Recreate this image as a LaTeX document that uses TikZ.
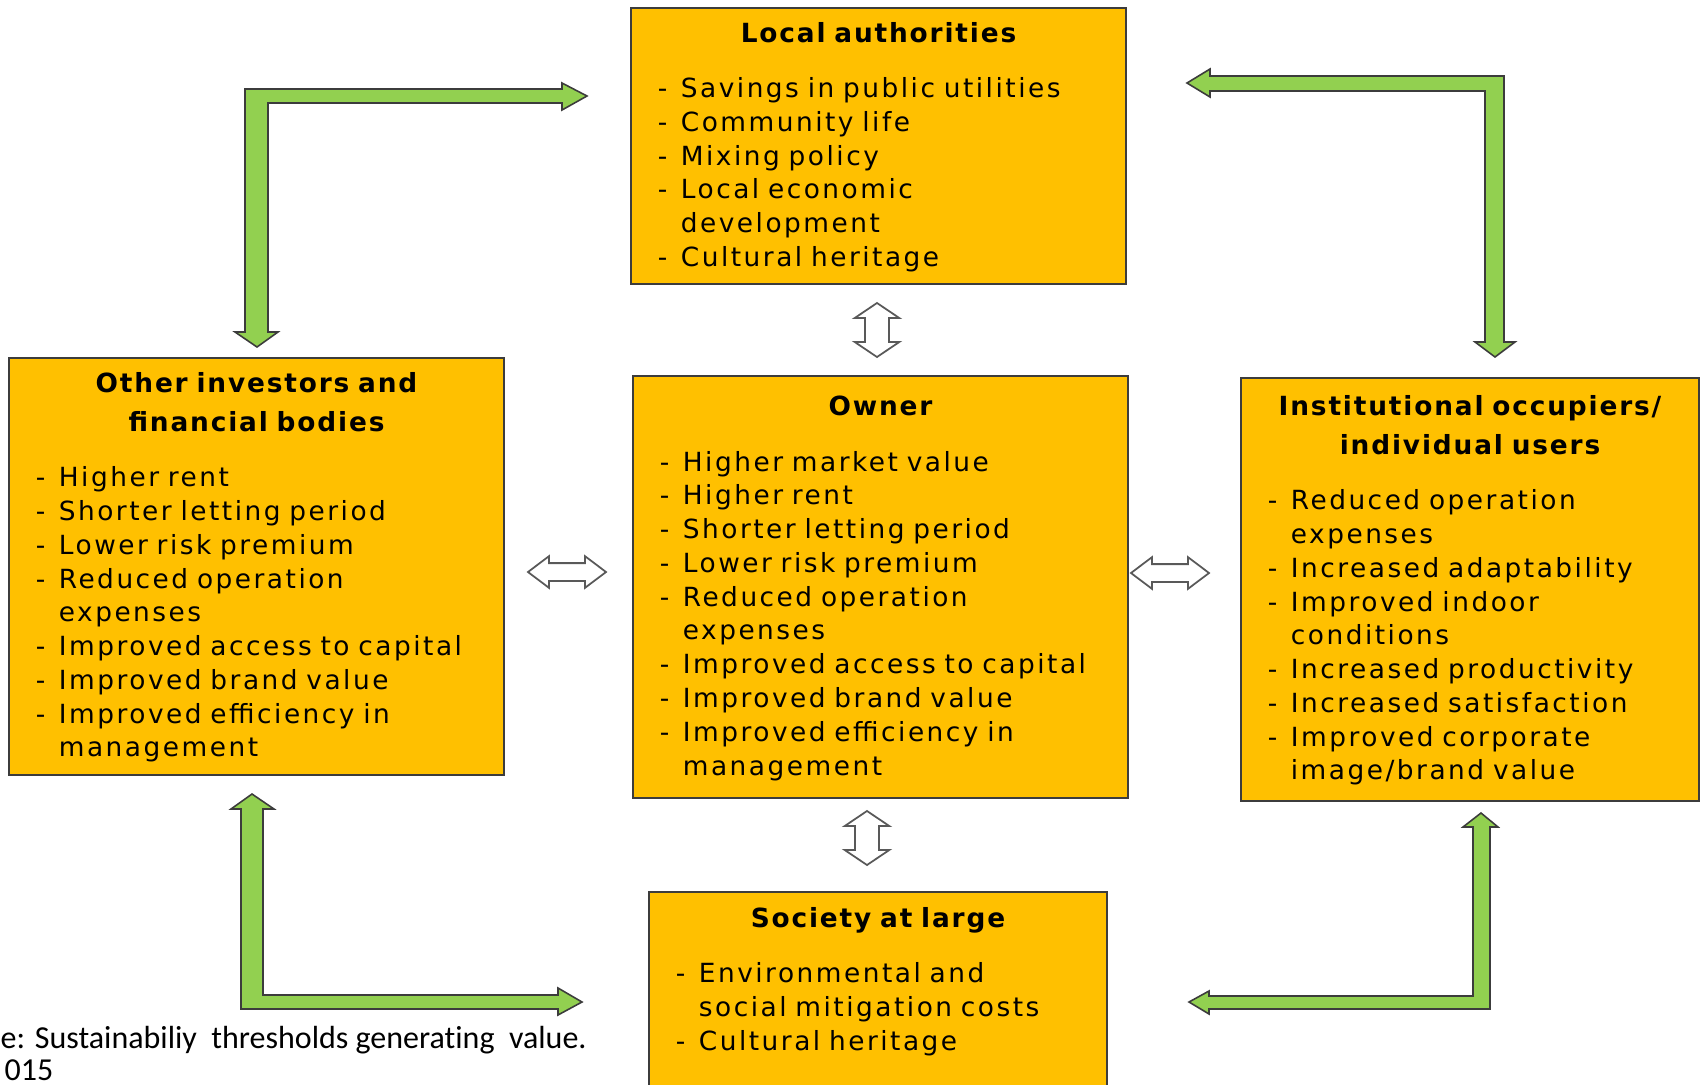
\documentclass[tikz,border=0pt]{standalone}
\usepackage{fontspec}
\newfontfamily\boxfont{DejaVu Sans}[LetterSpace=9.5]
\newfontfamily\headfont{DejaVu Sans}[LetterSpace=7]
\newfontfamily\capfont{Carlito}[Ligatures=NoCommon]
\definecolor{boxgold}{RGB}{255,192,0}
\definecolor{arrowgreen}{RGB}{146,208,80}
\definecolor{edgegray}{RGB}{60,60,60}
\usetikzlibrary{arrows.meta,positioning,shapes.arrows,calc}

% dash column + item column, rows given as "- & text\\"
\newcommand{\gainlist}[2]{\begin{tabular}[t]{@{}p{0.23cm}@{}p{#1}@{}}#2\end{tabular}}
\newcommand{\boxhead}[1]{{\headfont\bfseries #1}}
\newcommand{\headstrut}{\rule{0pt}{7.6pt}}

\begin{document}
\begin{tikzpicture}[x=0.01cm, y=-0.01cm,
    partybox/.style={rectangle, draw=edgegray, line width=0.7pt, fill=boxgold,
                     inner xsep=0.27cm, inner ysep=0.05cm, align=center,
                     font=\boxfont\fontsize{7.5}{9.6}\selectfont},
    widebox/.style={partybox, minimum width=4.95cm, text width=4.41cm},
    narrowbox/.style={partybox, minimum width=4.58cm, text width=4.04cm},
    flowarrow/.style={fill=arrowgreen, draw=edgegray, line width=0.45pt, line join=miter},
    sidelink/.style={double arrow, draw=black!65, fill=white, line width=0.5pt,
                     minimum height=0.78cm, minimum width=0.3cm,
                     inner xsep=0pt, inner ysep=0.08cm,
                     double arrow head extend=0.07cm, double arrow tip angle=74},
    uplink/.style={double arrow, rotate=90, draw=black!65, fill=white, line width=0.5pt,
                   minimum height=0.54cm, minimum width=0.43cm,
                   inner xsep=0pt, inner ysep=0.11cm,
                   double arrow head extend=0.105cm, double arrow tip angle=112},
    captext/.style={anchor=base west, inner sep=0pt, font=\capfont\fontsize{9.1}{11}\selectfont}
  ]
  \useasboundingbox (0,0) rectangle (1702,1084);

  % stakeholder boxes
  \node[widebox, minimum height=2.76cm] (local) at (878.5,146) {%
    \headstrut\boxhead{Local authorities}\\[6.2pt]
    \gainlist{4.18cm}{- & Savings in public utilities\\
      - & Community life\\
      - & Mixing policy\\
      - & Local economic\\
        & development\\
      - & Cultural heritage}};
  \node[widebox, minimum height=4.17cm] (invest) at (256.5,566.5) {%
    \headstrut\boxhead{Other investors and}\\[1.4pt]\boxhead{financial bodies}\\[6.2pt]
    \gainlist{4.18cm}{- & Higher rent\\
      - & Shorter letting period\\
      - & Lower risk premium\\
      - & Reduced operation\\
        & expenses\\
      - & Improved access to capital\\
      - & Improved brand value\\
      - & Improved efficiency in\\
        & management}};
  \node[widebox, minimum height=4.22cm] (owner) at (880.5,587) {%
    \headstrut\boxhead{Owner}\\[6.2pt]
    \gainlist{4.18cm}{- & Higher market value\\
      - & Higher rent\\
      - & Shorter letting period\\
      - & Lower risk premium\\
      - & Reduced operation\\
        & expenses\\
      - & Improved access to capital\\
      - & Improved brand value\\
      - & Improved efficiency in\\
        & management}};
  \node[narrowbox, minimum height=4.23cm] (users) at (1470,589.5) {%
    \headstrut\boxhead{Institutional occupiers/}\\[1.4pt]\boxhead{individual users}\\[6.2pt]
    \gainlist{3.81cm}{- & Reduced operation\\
        & expenses\\
      - & Increased adaptability\\
      - & Improved indoor\\
        & conditions\\
      - & Increased productivity\\
      - & Increased satisfaction\\
      - & Improved corporate\\
        & image/brand value}};
  \node[narrowbox, anchor=north, inner ysep=0.15cm] (society) at (878,891) {%
    \boxhead{Society at large}\\[6.2pt]
    \gainlist{3.81cm}{- & Environmental and\\
        & social mitigation costs\\
      - & Cultural heritage\\[0.8cm]}};

  % two-way links around the owner
  \node[sidelink] (linkL) at (567,572) {};
  \node[sidelink] (linkR) at (1170,573) {};
  \node[uplink] (linkT) at (877,330) {};
  \node[uplink] (linkB) at (867,838) {};

  % green elbow arrows
  \draw[flowarrow] (257,347) -- (278,332) -- (268,332) -- (268,103) -- (562,103) -- (562,110)
    -- (587,96) -- (562,83) -- (562,89) -- (245,89) -- (245,332) -- (235,332) -- cycle;
  \draw[flowarrow] (1187,83) -- (1210,69) -- (1210,76) -- (1504,76) -- (1504,342) -- (1515,342)
    -- (1495,357) -- (1475,342) -- (1485,342) -- (1485,91) -- (1210,91) -- (1210,97) -- cycle;
  \draw[flowarrow] (252,794) -- (274,809) -- (263,809) -- (263,995) -- (558,995) -- (558,988)
    -- (582,1002) -- (558,1015) -- (558,1009) -- (241,1009) -- (241,809) -- (231,809) -- cycle;
  \draw[flowarrow] (1481,813) -- (1498,827) -- (1490,827) -- (1490,1009) -- (1209,1009) -- (1209,1014)
    -- (1189,1002) -- (1209,991) -- (1209,996) -- (1473,996) -- (1473,827) -- (1463,827) -- cycle;

  % caption remnant
  \node[captext] (cap1) at (0,1048) {e: Sustainabiliy\ \ thresholds generating\ \ value.};
  \node[captext] (cap2) at (4,1080) {015};
\end{tikzpicture}
\end{document}
